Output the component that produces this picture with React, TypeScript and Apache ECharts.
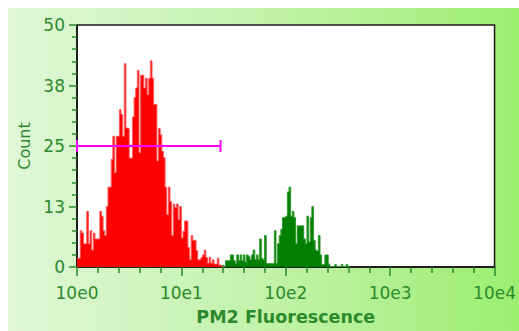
import React, { useEffect, useRef } from "react";
import * as echarts from "echarts";

// Histogram counts per channel (256 channels over 4 decades)
const redStart = 0;
const redCounts = [
  1.8, 1.8, 7.5, 7, 4.8, 4.8, 11.5, 4.8, 7.5, 3.5,
  7, 5.8, 5.8, 5.8, 11.5, 10.5, 7.5, 6.5, 12.5, 16.5,
  16.5, 22.2, 27, 19.5, 27, 27, 32.5, 31.5, 27, 42,
  28.7, 28.6, 22.5, 22.5, 31, 35, 37, 40.6, 23.6, 39.6,
  39.6, 37, 39, 35.6, 39, 42.6, 39, 33.6, 33.6, 21.9,
  28.6, 27.3, 23.9, 22.6, 16.5, 10.8, 16.5, 13.5, 6.5, 13,
  12.3, 13, 9.8, 12.5, 6, 7.4, 9.5, 9.5, 4, 1.5,
  6.5, 5.5, 5.5, 3.4, 1.5, 1.5, 2, 2.5, 3.5, 2,
  0.8, 2, 0.8, 1.5, 0.6, 0.6, 1.8, 0.4, 0.3,
];
const greenStart = 89;
const greenCounts = [
  0.3, 0, 1.3, 1.3, 1.3, 2.5, 2.5, 1.3, 0.8, 2.5,
  1.3, 2.5, 1.3, 2.5, 1, 2.5, 2.2, 1.5, 2.5, 3.5,
  1.5, 2.5, 1.5, 5.8, 1.8, 1.5, 6.5, 0.7, 0.7, 0.7,
  0.7, 0.7, 7.5, 0.7, 4.8, 6.5, 7.8, 10.2, 10.2, 10.5,
  15.5, 16.5, 10.5, 11.5, 10.2, 4.8, 8.5, 8.5, 8.5, 8.5,
  5.8, 4.8, 10.5, 5.2, 10.2, 12.5, 5.5, 3.5, 3.3, 6.5,
  2.5, 0.5, 0.5, 2.5, 2.5, 0.6, 0.1, 0.1, 0.1, 0.5,
  0.1, 0.1, 0.1, 0.5, 0.1, 0.1, 0.5, 0.1,
];
const channelsPerDecade = 64;
const xTickLabels = ["10e0", "10e1", "10e2", "10e3", "10e4"];
const yMax = 50;
const yInterval = 12.5;
const gateRange = [0, 88];
const gateLevel = 25;

const TEXT_GREEN = "#2b8a2b";
const FONT = "'DejaVu Sans', 'Liberation Sans', sans-serif";

function stepData(counts: number[], start: number) {
  const pts = counts.map((v, i) => [start + i, v]);
  pts.push([start + counts.length, 0]);
  return pts;
}

export default function App() {
  const ref = useRef<HTMLDivElement>(null);
  useEffect(() => {
    if (!ref.current) return;
    const chart = echarts.init(ref.current, null, { renderer: "svg" });
    const tickStyle = { color: TEXT_GREEN, width: 1.5 };
    chart.setOption({
      animation: false,
      backgroundColor: new echarts.graphic.LinearGradient(0, 0, 1, 0, [
        { offset: 0, color: "#e0f7d7" },
        { offset: 0.5, color: "#c2f2aa" },
        { offset: 1, color: "#9cee70" },
      ]),
      grid: {
        left: 67,
        top: 17,
        width: 426,
        height: 249,
        show: true,
        backgroundColor: "#ffffff",
        borderColor: "#1a1a1a",
        borderWidth: 1.5,
      },
      xAxis: {
        type: "value",
        min: 0,
        max: channelsPerDecade * (xTickLabels.length - 1),
        interval: channelsPerDecade,
        axisLine: { show: true, lineStyle: { color: "#111", width: 1.5 } },
        axisTick: { show: true, length: 9, lineStyle: tickStyle },
        minorTick: { show: true, splitNumber: 5, length: 6, lineStyle: tickStyle },
        splitLine: { show: false },
        minorSplitLine: { show: false },
        axisLabel: {
          formatter: (v: number) => xTickLabels[Math.round(v / channelsPerDecade)],
          color: TEXT_GREEN,
          fontSize: 17,
          fontFamily: FONT,
          margin: 17,
        },
        name: "PM2 Fluorescence",
        nameLocation: "middle",
        nameGap: 41,
        nameTextStyle: {
          color: TEXT_GREEN,
          fontSize: 17.5,
          fontWeight: "bold",
          fontFamily: FONT,
        },
      },
      yAxis: {
        type: "value",
        min: 0,
        max: yMax,
        interval: yInterval,
        axisLine: { show: true, lineStyle: { color: "#111", width: 1.5 } },
        axisTick: { show: true, length: 8, lineStyle: tickStyle },
        minorTick: { show: true, splitNumber: 5, length: 5, lineStyle: tickStyle },
        splitLine: { show: false },
        minorSplitLine: { show: false },
        axisLabel: {
          formatter: (v: number) => String(Math.round(v)),
          color: TEXT_GREEN,
          fontSize: 17,
          fontFamily: FONT,
          margin: 12,
        },
        name: "Count",
        nameLocation: "middle",
        nameGap: 45,
        nameRotate: 90,
        nameTextStyle: { color: TEXT_GREEN, fontSize: 16, fontFamily: FONT },
      },
      series: [
        {
          type: "line",
          step: "end",
          data: stepData(redCounts, redStart),
          symbol: "none",
          lineStyle: { color: "#ff5a5a", width: 1 },
          areaStyle: { color: "#ff0000", opacity: 1 },
          z: 2,
        },
        {
          type: "line",
          step: "end",
          data: stepData(greenCounts, greenStart),
          symbol: "none",
          lineStyle: { color: "#2f9a2f", width: 1 },
          areaStyle: { color: "#007f00", opacity: 1 },
          z: 2,
        },
        {
          type: "custom",
          encode: { x: [0, 1], y: 2 },
          data: [[gateRange[0], gateRange[1], gateLevel]],
          z: 10,
          renderItem: (_params: any, api: any) => {
            const p1 = api.coord([api.value(0), api.value(2)]);
            const p2 = api.coord([api.value(1), api.value(2)]);
            const cap = 6;
            const st = { stroke: "#ff00ff", lineWidth: 2 };
            return {
              type: "group",
              children: [
                { type: "line", shape: { x1: p1[0], y1: p1[1], x2: p2[0], y2: p2[1] }, style: st },
                { type: "line", shape: { x1: p2[0], y1: p2[1] - cap, x2: p2[0], y2: p2[1] + cap }, style: st },
                { type: "line", shape: { x1: p1[0], y1: p1[1] - cap, x2: p1[0], y2: p1[1] + cap }, style: st },
              ],
            };
          },
        },
      ],
    });
    return () => chart.dispose();
  }, []);
  return (
    <div
      ref={ref}
      style={{ position: "fixed", left: 8, top: 8, width: 511, height: 323 }}
    />
  );
}
